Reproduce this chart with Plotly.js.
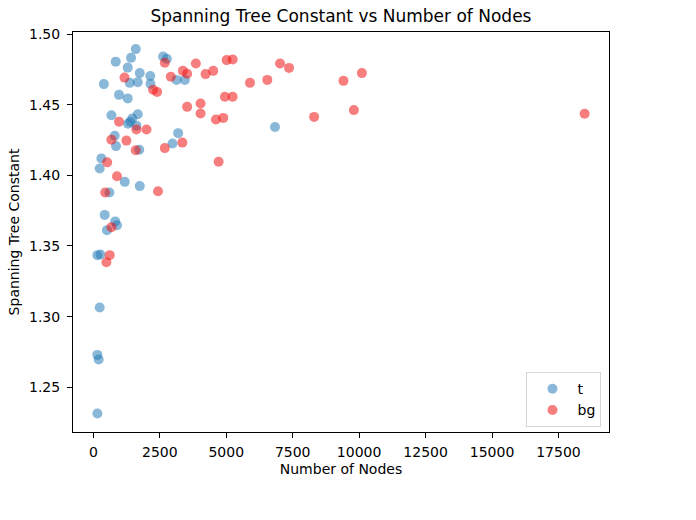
<!DOCTYPE html>
<html>
<head>
<meta charset="utf-8">
<script src="https://cdn.plot.ly/plotly-3.0.1.min.js"></script>
<style>
  html, body { margin: 0; padding: 0; background: #ffffff; }
  #chart { width: 696px; height: 520px; }
</style>
</head>
<body>
<div id="chart"></div>
<script>
// Graphs of family "t": node count and spanning tree constant
const tNodes = [1595, 1418, 841, 1293, 2624, 2763, 1745, 2141, 1369, 1670,
                2149, 396, 3129, 3442, 965, 1293, 679, 1670, 1463, 1387,
                1304, 1621, 3189, 2978, 803, 852, 1727, 302, 238, 1180,
                1745, 603, 426, 822, 890, 513, 151, 264, 238, 151,
                200, 151, 6835];
const tConst = [1.4894, 1.4832, 1.4805, 1.4763, 1.4842, 1.4825, 1.4724, 1.4703, 1.4655, 1.4660,
                1.4648, 1.4646, 1.4676, 1.4676, 1.4570, 1.4545, 1.4425, 1.4433, 1.4402, 1.4379,
                1.4365, 1.4352, 1.4299, 1.4226, 1.4281, 1.4207, 1.4181, 1.4120, 1.4049, 1.3954,
                1.3924, 1.3879, 1.3720, 1.3674, 1.3647, 1.3612, 1.3435, 1.3440, 1.3064, 1.2729,
                1.2696, 1.2314, 1.4343];

// Graphs of family "bg"
const bgNodes = [1172, 2688, 2247, 2398, 2914, 3367, 3529, 3857, 4222, 4509,
                 5014, 5240, 5893, 6545, 7024, 7363, 9410, 10104, 3529, 4034,
                 4034, 4950, 5240, 4611, 4886, 4713, 8305, 9802, 18484, 965,
                 1621, 1998, 679, 1244, 1595, 2688, 3348, 520, 890, 445,
                 2432, 679, 615, 490];
const bgConst = [1.4692, 1.4797, 1.4606, 1.4591, 1.4698, 1.4740, 1.4719, 1.4792, 1.4717, 1.4740,
                 1.4816, 1.4821, 1.4655, 1.4676, 1.4792, 1.4761, 1.4669, 1.4724, 1.4485, 1.4509,
                 1.4438, 1.4556, 1.4556, 1.4396, 1.4407, 1.4096, 1.4414, 1.4462, 1.4436, 1.4379,
                 1.4325, 1.4325, 1.4253, 1.4246, 1.4178, 1.4193, 1.4232, 1.4092, 1.3994, 1.3879,
                 1.3888, 1.3633, 1.3435, 1.3385];

const xTicks = [0, 2500, 5000, 7500, 10000, 12500, 15000, 17500];
const yTicks = [1.25, 1.30, 1.35, 1.40, 1.45, 1.50];

const FONT = 'DejaVu Sans, sans-serif';
const BLUE = 'rgba(31,119,180,0.52)';
const RED = 'rgba(240,20,20,0.55)';

function series(x, y, name, color) {
  return {
    type: 'scatter', mode: 'markers', name: name,
    x: x, y: y,
    marker: { size: 10, color: color, line: { width: 0 } }
  };
}

const data = [
  series(tNodes, tConst, 't', BLUE),
  series(bgNodes, bgConst, 'bg', RED)
];

const axisCommon = {
  showgrid: false, zeroline: false,
  showline: true, mirror: true, linecolor: '#000', linewidth: 1,
  ticks: 'outside', ticklen: 5, tickwidth: 1, tickcolor: '#000',
  tickfont: { family: FONT, size: 14, color: '#000' },
  tickmode: 'array'
};

const layout = {
  width: 696, height: 520,
  paper_bgcolor: '#fff', plot_bgcolor: '#fff',
  margin: { l: 73, r: 87, t: 32, b: 88 },
  showlegend: true,
  title: {
    text: 'Spanning Tree Constant vs Number of Nodes',
    font: { family: FONT, size: 17, color: '#000' },
    x: 0.5, xref: 'paper', xanchor: 'center',
    y: 1 - 16 / 520, yref: 'container', yanchor: 'middle'
  },
  xaxis: Object.assign({}, axisCommon, {
    range: [-766, 19401],
    tickvals: xTicks,
    ticktext: xTicks.map(String),
    ticklabelstandoff: 2,
    title: { text: 'Number of Nodes', font: { family: FONT, size: 14, color: '#000' }, standoff: 5 }
  }),
  yaxis: Object.assign({}, axisCommon, {
    range: [1.2183, 1.5015],
    tickvals: yTicks,
    ticktext: yTicks.map(v => v.toFixed(2)),
    ticklabelstandoff: 4,
    title: { text: 'Spanning Tree Constant', font: { family: FONT, size: 14, color: '#000' }, standoff: 6 }
  }),
  legend: {
    x: 0.986, xanchor: 'right', xref: 'paper',
    y: 0.012, yanchor: 'bottom', yref: 'paper',
    bgcolor: 'rgba(255,255,255,0.8)',
    bordercolor: '#d6d6d6', borderwidth: 1,
    font: { family: FONT, size: 14, color: '#000' },
    itemwidth: 40
  }
};

Plotly.newPlot('chart', data, layout, { staticPlot: true, displayModeBar: false });
</script>
</body>
</html>
